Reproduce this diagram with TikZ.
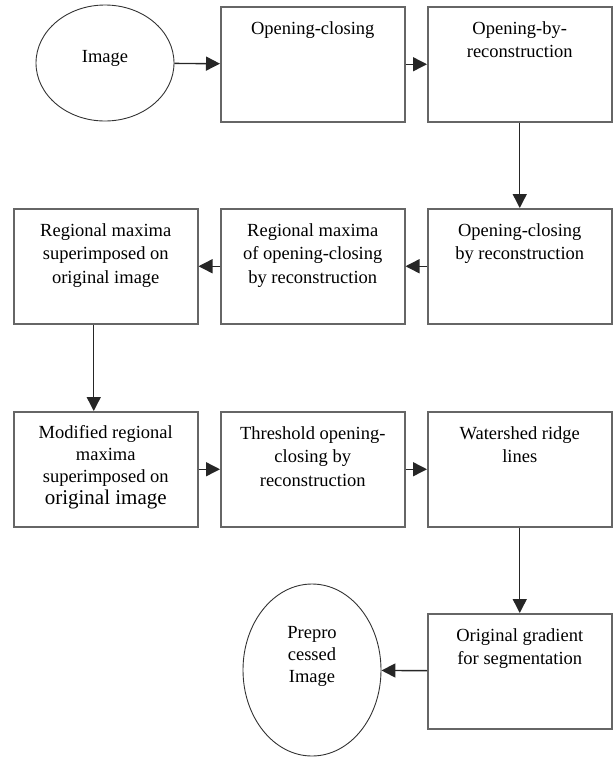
\documentclass[tikz,border=0pt]{standalone}
\usepackage{fontspec}
\setmainfont{Liberation Serif}
\usetikzlibrary{arrows.meta}
\usetikzlibrary{shapes.geometric}
\usetikzlibrary{positioning}

\begin{document}
\begin{tikzpicture}[x=1pt,y=-1pt,
	stepbox/.style={draw=black!60, line width=1.5pt, minimum width=184pt, minimum height=115pt, anchor=north west, inner sep=0pt},
	oval/.style={ellipse, draw=black!80, line width=0.9pt, inner sep=0pt, minimum width=138pt},
	txt/.style={align=center, inner sep=0pt, font=\rmfamily\fontsize{18.5}{23.5}\selectfont},
	flow/.style={-{Triangle[length=14pt,width=14pt]}, line width=1.4pt, black!85}]

	\useasboundingbox (0,0) rectangle (614,758);

	% boxes and ovals
	\node[oval, minimum height=116pt] (img) at (105,63) {};
	\node[stepbox] (open) at (220,6) {};
	\node[stepbox] (openrec) at (427,6) {};
	\node[stepbox] (regorig) at (13,208) {};
	\node[stepbox] (regmax) at (220,208) {};
	\node[stepbox] (ocrec) at (427,208) {};
	\node[stepbox] (modreg) at (13,411) {};
	\node[stepbox] (thresh) at (220,411) {};
	\node[stepbox] (water) at (427,411) {};
	\node[stepbox] (grad) at (427,613) {};
	\node[oval, minimum height=172pt] (prep) at (312,670) {};

	% texts
	\node[txt] (imgT) at (105,58) {Image};
	\node[txt, below=15pt of open.north] (openT) {Opening-closing};
	\node[txt, below=15pt of openrec.north] (openrecT) {Opening-by-\\reconstruction};
	\node[txt, below=15pt of regorig.north] (regorigT) {Regional maxima\\superimposed on\\original image};
	\node[txt, below=15pt of regmax.north] (regmaxT) {Regional maxima\\of opening-closing\\by reconstruction};
	\node[txt, below=15pt of ocrec.north] (ocrecT) {Opening-closing\\by reconstruction};
	\node[txt, below=14pt of modreg.north, font=\fontsize{18.5}{22}\selectfont] (modregT) {Modified regional\\maxima\\superimposed on\\{\fontsize{21}{22}\selectfont original image}};
	\node[txt, below=15pt of thresh.north] (threshT) {Threshold opening-\\closing by\\reconstruction};
	\node[txt, below=15pt of water.north] (waterT) {Watershed ridge\\lines};
	\node[txt, below=15pt of grad.north] (gradT) {Original gradient\\for segmentation};
	\node[txt, font=\fontsize{18.5}{22}\selectfont] (prepT) at (312,656) {Prepro\\cessed\\Image};

	% connectors
	\draw[flow] (img) -- (open);
	\draw[flow] (open) -- (openrec);
	\draw[flow] (openrec) -- (ocrec);
	\draw[flow] (ocrec) -- (regmax);
	\draw[flow] (regmax) -- (regorig);
	\draw[flow] ([xshift=-12pt]regorig.south) -- ([xshift=-12pt]modreg.north);
	\draw[flow] (modreg) -- (thresh);
	\draw[flow] (thresh) -- (water);
	\draw[flow] (water) -- (grad);
	\draw[flow] (grad) -- (prep);
\end{tikzpicture}
\end{document}
